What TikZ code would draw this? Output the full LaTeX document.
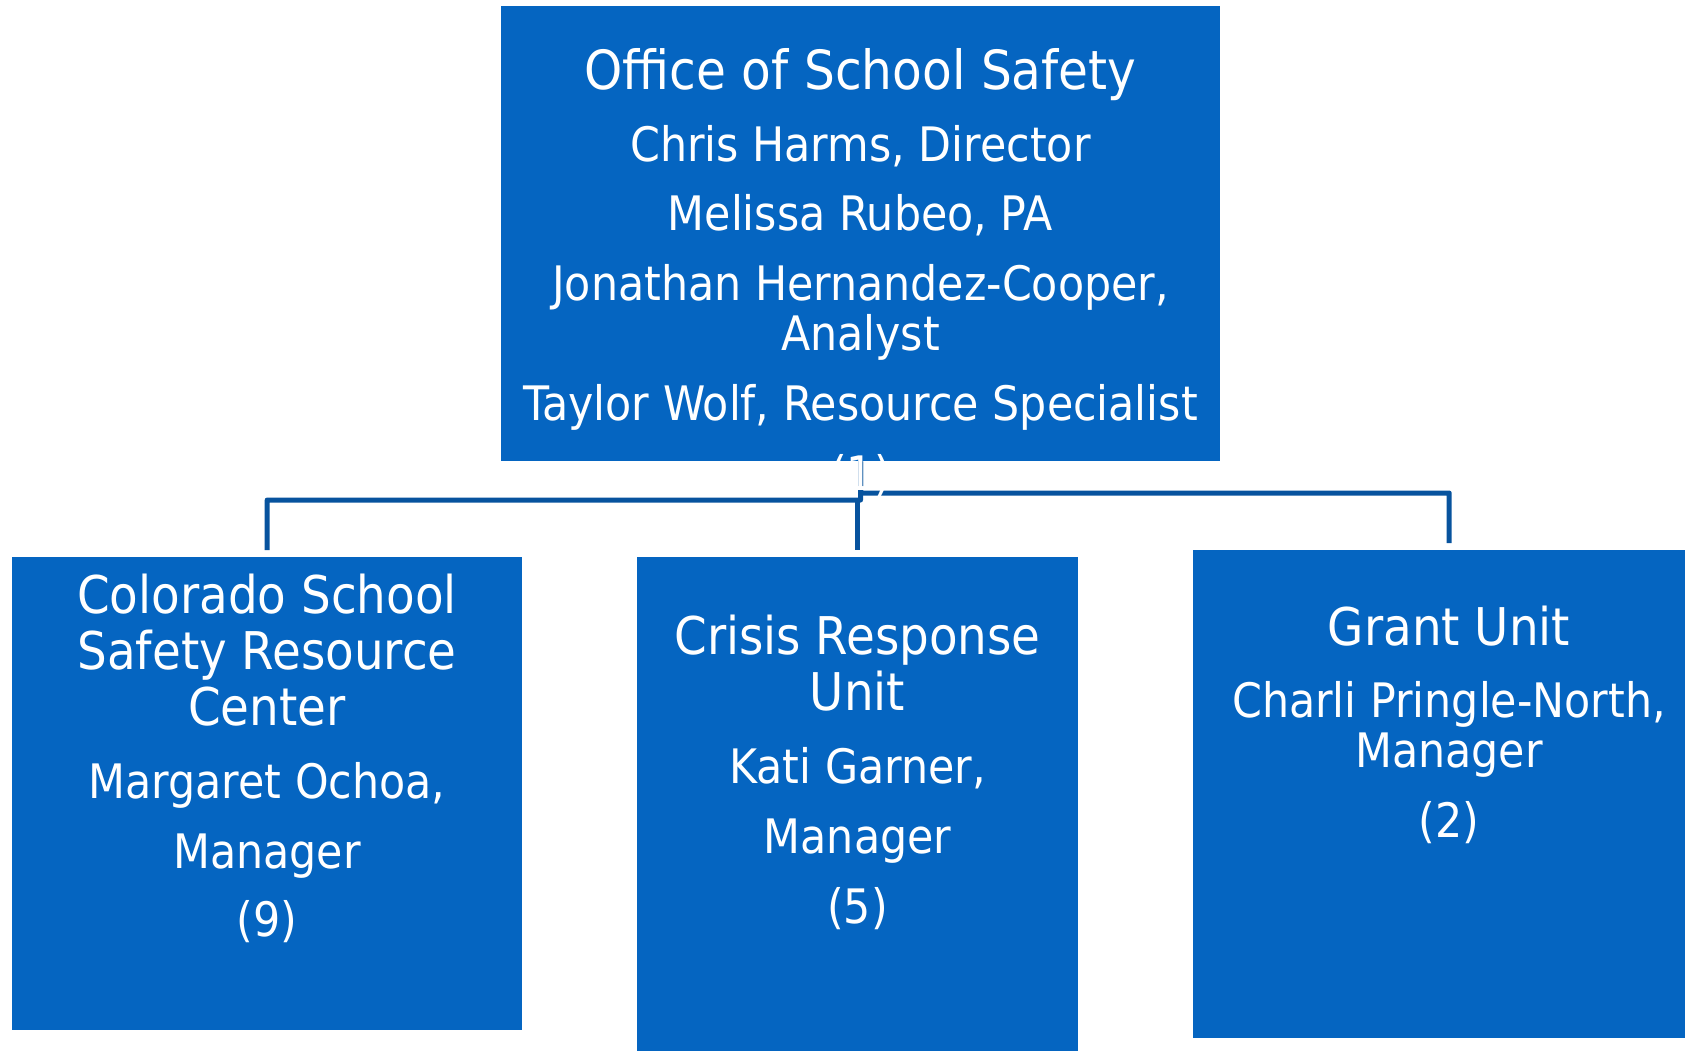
\documentclass[tikz,border=0pt]{standalone}
\usepackage{fontspec}
\setmainfont{DejaVu Sans}[FakeStretch=0.9]
\definecolor{boxblue}{HTML}{0565C1}
\definecolor{lineblue}{HTML}{07539E}
\tikzset{
  unitbox/.style={fill=boxblue, draw=none, anchor=north west, inner sep=0pt},
  conn/.style={draw=lineblue, line width=5pt, line join=round},
  lbl/.style={text=white, anchor=base, inner sep=0pt},
  headA/.style={lbl, font=\fontsize{54}{56}\selectfont},
  headB/.style={lbl, font=\fontsize{52}{56}\selectfont},
  body/.style={lbl, font=\fontsize{47.5}{50}\selectfont},
}
\begin{document}
\begin{tikzpicture}[x=1pt, y=-1pt]
\useasboundingbox (0,0) rectangle (1685,1050);
\clip (0,0) rectangle (1685,1050);
% boxes
\node[unitbox, minimum width=719pt, minimum height=455pt] (top) at (501,6) {};
\node[unitbox, minimum width=510pt, minimum height=473pt] (left) at (12,557) {};
\node[unitbox, minimum width=441pt, minimum height=520pt] (mid) at (637,557) {};
\node[unitbox, minimum width=512pt, minimum height=488pt] (right) at (1193,550) {};
% connectors
\coordinate (jl) at (860.5,500);
\coordinate (jr) at (860.5,493);
\draw[conn, shorten >=7pt] (top.south) -- (jl) -| (left.north);
\draw[conn, shorten >=7pt] (jl -| mid.north) -- (mid.north);
\draw[conn, shorten >=7pt] (top.south) -- (jr) -| (right.north);
% top box text
\node[headA] (t0) at (860.5,89) {Office of School Safety};
\node[body] (t1) at (860.5,161) {Chris Harms, Director};
\node[body] (t2) at (860.5,230) {Melissa Rubeo, PA};
\node[body] (t3) at (860.5,300) {Jonathan Hernandez-Cooper,};
\node[body] (t4) at (860.5,350) {Analyst};
\node[body] (t5) at (860.5,420) {Taylor Wolf, Resource Specialist};
\node[body] (t6) at (860.5,490) {(1)};
% left box text
\node[headB] (l1) at (267,613) {Colorado School};
\node[headB] (l2) at (267,669) {Safety Resource};
\node[headB] (l3) at (267,725) {Center};
\node[body] (l4) at (267,798) {Margaret Ochoa,};
\node[body] (l5) at (267,868) {Manager};
\node[body] (l6) at (267,936) {(9)};
% middle box text
\node[headB] (m1) at (857.5,654) {Crisis Response};
\node[headB] (m2) at (857.5,710) {Unit};
\node[body] (m3) at (857.5,783) {Kati Garner,};
\node[body] (m4) at (857.5,853) {Manager};
\node[body] (m5) at (857.5,923) {(5)};
% right box text
\node[headB] (r1) at (1449,645) {Grant Unit};
\node[body] (r2) at (1449,717) {Charli Pringle-North,};
\node[body] (r3) at (1449,767) {Manager};
\node[body] (r4) at (1449,837) {(2)};
\end{tikzpicture}
\end{document}
